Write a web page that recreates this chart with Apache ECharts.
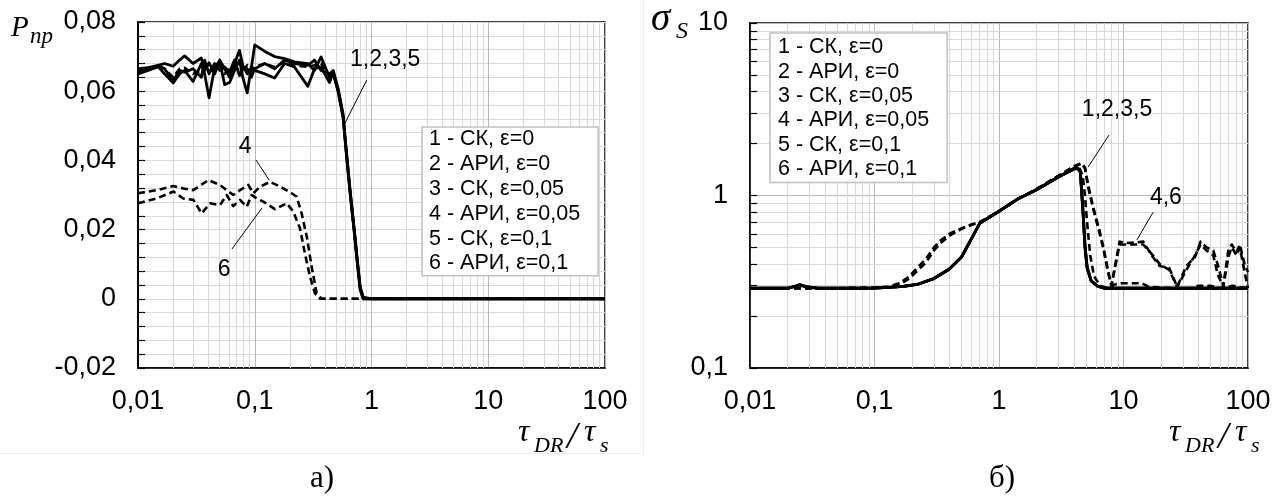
<!DOCTYPE html>
<html><head><meta charset="utf-8">
<script src="https://cdn.jsdelivr.net/npm/echarts@6/dist/echarts.min.js"></script>
<style>html,body{margin:0;padding:0;background:#fff}#c{width:1286px;height:497px}</style>
</head><body><div id="c"></div><script>
// ---------- names / ticks ----------
const seriesNames = ['1 - СК, ε=0','2 - АРИ, ε=0','3 - СК, ε=0,05','4 - АРИ, ε=0,05','5 - СК, ε=0,1','6 - АРИ, ε=0,1'];
const xTickValues = [0.01, 0.1, 1, 10, 100];

// ---------- chart a) P_пр ----------
const xA = [0.01,0.0122,0.0148,0.0169,0.02,0.0227,0.0251,0.0296,0.0349,0.0372,0.0406,0.0454,0.0501,0.0552,0.0609,0.0671,0.074,0.079,0.0862,0.0933,0.1,0.122,0.148,0.18,0.219,0.285,0.325,0.37,0.437,0.47,0.52,0.57,0.61,0.66,0.71,0.76,0.8,0.85,1,100];
const a1 = [0.0665,0.0668,0.0675,0.0680,0.0672,0.0690,0.0702,0.0680,0.0696,0.0660,0.0682,0.0650,0.0690,0.0665,0.0640,0.0680,0.0718,0.0675,0.0650,0.0665,0.0734,0.0715,0.0700,0.0694,0.0685,0.0680,0.0660,0.0699,0.0640,0.0650,0.0600,0.0530,0.0420,0.0300,0.0200,0.0100,0.0030,0,0,0];
const a2 = [0.0660,0.0665,0.0673,0.0665,0.0640,0.0665,0.0668,0.0650,0.0660,0.0675,0.0660,0.0665,0.0675,0.0650,0.0665,0.0670,0.0660,0.0660,0.0675,0.0660,0.0670,0.0680,0.0670,0.0685,0.0675,0.0670,0.0675,0.0680,0.0645,0.0655,0.0600,0.0530,0.0420,0.0300,0.0200,0.0100,0.0030,0,0,0];
const a3 = [0.0655,0.0662,0.0672,0.0650,0.0624,0.0650,0.0660,0.0628,0.0680,0.0650,0.0581,0.0670,0.0688,0.0619,0.0625,0.0660,0.0690,0.0640,0.0595,0.0670,0.0660,0.0650,0.0638,0.0680,0.0670,0.0614,0.0665,0.0670,0.0625,0.0655,0.0595,0.0525,0.0415,0.0295,0.0195,0.0095,0.0025,0,0,0];
const a5 = [0.0650,0.0660,0.0670,0.0665,0.0630,0.0660,0.0655,0.0665,0.0640,0.0690,0.0650,0.0680,0.0660,0.0670,0.0655,0.0690,0.0645,0.0670,0.0665,0.0640,0.0665,0.0680,0.0665,0.0690,0.0680,0.0675,0.0690,0.0660,0.0650,0.0660,0.0605,0.0535,0.0425,0.0305,0.0205,0.0105,0.0035,0.0005,0,0];
const xA4 = [0.01,0.01445,0.0201,0.0244,0.0298,0.040,0.0504,0.0575,0.0655,0.0748,0.0881,0.0972,0.111,0.135,0.165,0.207,0.229,0.252,0.279,0.307,0.339,0.374,1,100];
const a4  = [0.0305,0.0314,0.0326,0.0319,0.0314,0.0343,0.0329,0.0314,0.0300,0.0314,0.0329,0.0305,0.0324,0.0338,0.0324,0.0305,0.0295,0.0247,0.0180,0.0093,0.0016,0,0,0];
const xA6 = [0.01,0.01445,0.0201,0.0244,0.0298,0.0351,0.0414,0.0504,0.0575,0.0655,0.0748,0.0853,0.0942,0.1039,0.1184,0.149,0.188,0.214,0.244,0.269,0.297,0.328,0.362,1,100];
const a6  = [0.0276,0.0290,0.0310,0.0290,0.0286,0.0247,0.0276,0.0271,0.0300,0.0268,0.0286,0.0266,0.0300,0.0290,0.0281,0.0259,0.0276,0.0252,0.0204,0.0131,0.0064,0.0016,0,0,0];
const yTicksA = [-0.02, 0, 0.02, 0.04, 0.06, 0.08];

// ---------- chart б) σ_S ----------
const xB = [0.01,0.015,0.02,0.023,0.025,0.028,0.035,0.05,0.07,0.1,0.13,0.17,0.22,0.3,0.4,0.5,0.6,0.7,1,1.4,2,3,4,4.3,4.5,4.6,4.75,4.9,5.1,5.5,6.2,7,20,100];
const b1 = [0.29,0.29,0.29,0.298,0.305,0.297,0.29,0.29,0.29,0.291,0.293,0.297,0.305,0.33,0.375,0.44,0.56,0.69,0.81,0.95,1.08,1.28,1.43,1.44,1.38,1.07,0.75,0.5,0.38,0.32,0.298,0.29,0.29,0.29];
const b3 = [0.29,0.29,0.29,0.296,0.302,0.295,0.29,0.29,0.29,0.291,0.293,0.297,0.305,0.33,0.375,0.44,0.56,0.69,0.81,0.95,1.08,1.28,1.42,1.43,1.36,1.1,0.78,0.52,0.39,0.32,0.298,0.29,0.29,0.29];
const b5 = [0.29,0.29,0.29,0.297,0.304,0.296,0.29,0.29,0.29,0.291,0.293,0.297,0.305,0.33,0.375,0.44,0.56,0.69,0.81,0.95,1.08,1.28,1.43,1.44,1.37,1.09,0.76,0.51,0.38,0.32,0.298,0.29,0.29,0.29];
const xB2 = [0.01,0.05,0.1,0.17,0.22,0.3,0.4,0.5,0.6,0.7,1,1.4,2,3,4,4.4,4.7,4.9,5.1,5.4,5.8,6.5,7.5,8.5,9.5,14,16,25,35,40,50,60,75,85,100];
const b2  = [0.29,0.29,0.291,0.297,0.305,0.33,0.375,0.44,0.56,0.69,0.81,0.95,1.08,1.28,1.44,1.46,1.3,1.0,0.7,0.45,0.34,0.30,0.29,0.305,0.31,0.31,0.295,0.29,0.29,0.3,0.3,0.29,0.3,0.295,0.29];
const xB4 = [0.01,0.05,0.1,0.13,0.16,0.19,0.22,0.26,0.3,0.34,0.4,0.5,0.6,0.7,1,1.4,2,3,4,4.6,4.9,5.2,5.7,6.4,6.9,7.5,8.0,9.3,11,14.4,17.2,19.5,23.3,27,32,37.5,41.6,46.5,52.6,57,63.3,69.5,74,81,86,94.6,100];
const b4  = [0.29,0.29,0.292,0.297,0.31,0.34,0.38,0.43,0.5,0.55,0.6,0.645,0.68,0.70,0.81,0.95,1.09,1.3,1.48,1.54,1.45,1.15,0.86,0.63,0.50,0.37,0.30,0.54,0.53,0.54,0.44,0.39,0.38,0.296,0.39,0.44,0.54,0.50,0.48,0.40,0.30,0.48,0.52,0.47,0.52,0.39,0.36];
const xB6 = [0.01,0.05,0.1,0.13,0.16,0.19,0.22,0.26,0.3,0.34,0.4,0.5,0.6,0.7,1,1.4,2,3,4,4.6,4.9,5.2,5.7,6.4,6.9,7.5,8.0,9.3,11,14.4,17.2,19.5,23.3,27,32,37.5,41.6,46.5,52.6,57,63.3,69.5,74,81,86,94.6,100];
const b6  = [0.29,0.29,0.291,0.295,0.305,0.33,0.365,0.41,0.48,0.53,0.585,0.64,0.675,0.70,0.81,0.95,1.09,1.3,1.47,1.53,1.44,1.12,0.84,0.61,0.49,0.36,0.30,0.52,0.52,0.52,0.45,0.40,0.37,0.295,0.37,0.45,0.52,0.48,0.45,0.35,0.295,0.44,0.50,0.45,0.50,0.35,0.29];
const yTicksB = [0.1, 1, 10];

// ---------- annotations (data coordinates) ----------
const annA = [{t:'1,2,3,5', at:[1.31,0.069], from:[0.91,0.0632], to:[0.593,0.0508]},
              {t:'4', at:[0.0826,0.0439], from:[0.1025,0.0401], to:[0.133,0.0343]},
              {t:'6', at:[0.0546,0.0083], from:[0.0638,0.0144], to:[0.115,0.0262]}];
const annB = [{t:'1,2,3,5', at:[8.87,3.13], from:[7.65,2.24], to:[5.19,1.46]},
              {t:'4,6', at:[21.9,0.967], from:[17.3,0.80], to:[12.8,0.552]}];

// ---------- helpers ----------
const decades = [0.01, 0.1, 1, 10];
const minorX = [];
decades.forEach(d => { for (let k = 2; k <= 9; k++) minorX.push(+(d * k).toPrecision(3)); });
const minorYB = [];
[0.1, 1].forEach(d => { for (let k = 2; k <= 9; k++) minorYB.push(+(d * k).toPrecision(3)); });

const fmt = v => { const n = +(+v).toPrecision(6); return String(n).replace('.', ','); };
const FONT = 'Liberation Sans, Arial, sans-serif';
const SERIF = 'Liberation Serif, Times New Roman, serif';

function mk(name, xs, ys, dashed, gi, w) {
  return {
    name, type: 'line', xAxisIndex: gi, yAxisIndex: gi,
    data: xs.map((x, i) => [x, ys[i]]),
    symbol: 'none', showSymbol: false, z: 3, animation: false,
    lineStyle: {color: '#000', width: w, type: dashed ? [7, 4] : 'solid', cap: 'butt', join: 'round'},
    itemStyle: {color: '#000'}
  };
}
function gridHelper(gi, withYMinor, tickStartX, tickEndX) {
  const lines = minorX.map(v => ({xAxis: v}));
  const out = [{
    type: 'line', xAxisIndex: gi, yAxisIndex: gi, data: [], silent: true,
    markLine: {silent: true, z: 1, animation: false, symbol: ['none', 'none'], label: {show: false},
      lineStyle: {color: '#d9d9d9', width: 1, type: 'solid'},
      data: withYMinor ? lines.concat(minorYB.map(v => ({yAxis: v}))) : lines}
  }];
  if (withYMinor) {
    out.push({
      type: 'line', xAxisIndex: gi, yAxisIndex: gi, data: [], silent: true,
      markLine: {silent: true, z: 4, animation: false, symbol: ['none', 'none'], label: {show: false},
        lineStyle: {color: '#000', width: 1.2, type: 'solid'},
        data: minorYB.map(v => [{coord: [tickStartX, v]}, {coord: [tickEndX, v]}])}
    });
  }
  return out;
}
function annSeries(gi, ann) {
  return {
    type: 'line', xAxisIndex: gi, yAxisIndex: gi, data: [], silent: true,
    markLine: {silent: true, z: 4, animation: false, symbol: ['none', 'none'], label: {show: false},
      lineStyle: {color: '#000', width: 1, type: 'solid'},
      data: ann.map(a => [{coord: a.from}, {coord: a.to}])},
    markPoint: {silent: true, z: 4, animation: false, symbol: 'circle', symbolSize: 0,
      label: {show: true, position: 'inside', color: '#000', fontSize: 23, fontFamily: FONT, formatter: p => p.name},
      data: ann.map(a => ({name: a.t, coord: a.at}))}
  };
}

const xAxisBase = gi => ({
  type: 'log', logBase: 10, gridIndex: gi, min: 0.01, max: 100,
  axisLine: {show: true, onZero: false, lineStyle: {color: '#000', width: 1.5}},
  axisTick: {show: false},
  axisLabel: {color: '#000', fontSize: 27, fontFamily: FONT, margin: 20, formatter: fmt,
    customValues: xTickValues},
  splitLine: {show: true, lineStyle: {color: '#b8b8b8', width: 1}}
});

const option = {
  animation: false,
  backgroundColor: '#fff',
  textStyle: {fontFamily: FONT},
  grid: [
    {left: 138, top: 22, width: 467, height: 346, show: true, borderColor: '#000', borderWidth: 1.5, backgroundColor: 'transparent', containLabel: false},
    {left: 750, top: 23, width: 498, height: 345, show: true, borderColor: '#000', borderWidth: 1.5, backgroundColor: 'transparent', containLabel: false}
  ],
  xAxis: [xAxisBase(0), xAxisBase(1)],
  yAxis: [
    {type: 'value', gridIndex: 0, min: -0.02, max: 0.08, interval: 0.02,
     axisLine: {show: true, onZero: false, lineStyle: {color: '#000', width: 2}},
     axisTick: {show: true, inside: true, length: 7, lineStyle: {color: '#000', width: 1.2}},
     minorTick: {show: true, splitNumber: 5, length: 7, lineStyle: {color: '#000', width: 1.2}},
     splitLine: {show: true, lineStyle: {color: '#d9d9d9', width: 1}},
     minorSplitLine: {show: true, lineStyle: {color: '#d9d9d9', width: 1}},
     axisLabel: {color: '#000', fontSize: 27, fontFamily: FONT, margin: 22, formatter: fmt}},
    {type: 'log', logBase: 10, gridIndex: 1, min: 0.1, max: 10,
     axisLine: {show: true, onZero: false, lineStyle: {color: '#000', width: 1.5}},
     axisTick: {show: true, inside: true, length: 7, lineStyle: {color: '#000', width: 1.2}},
     splitLine: {show: true, lineStyle: {color: '#b8b8b8', width: 1}},
     axisLabel: {color: '#000', fontSize: 27, fontFamily: FONT, margin: 22, formatter: fmt, customValues: yTicksB}}
  ],
  legend: [
    {data: seriesNames, left: 422, top: 127, orient: 'vertical', icon: 'none', itemWidth: 0, itemHeight: 10, itemGap: 0,
     selectedMode: false, padding: [0, 18, 0, 2], backgroundColor: '#fff', borderColor: '#bfbfbf', borderWidth: 1.5, borderRadius: 0,
     textStyle: {color: '#000', fontSize: 21.5, fontFamily: FONT, lineHeight: 24.8}, z: 6},
    {data: seriesNames, left: 770, top: 33, orient: 'vertical', icon: 'none', itemWidth: 0, itemHeight: 10, itemGap: 0,
     selectedMode: false, padding: [2, 18, 1, 3], backgroundColor: '#fff', borderColor: '#bfbfbf', borderWidth: 1.5, borderRadius: 0,
     textStyle: {color: '#000', fontSize: 21.5, fontFamily: FONT, lineHeight: 24.4}, z: 6}
  ],
  series: [
    ...gridHelper(0, false),
    ...gridHelper(1, true, 0.01, 0.0114),
    mk(seriesNames[0], xA, a1, false, 0, 2.8),
    mk(seriesNames[1], xA, a2, true, 0, 2.6),
    mk(seriesNames[2], xA, a3, false, 0, 2.8),
    mk(seriesNames[3], xA4, a4, true, 0, 2.6),
    mk(seriesNames[4], xA, a5, false, 0, 2.8),
    mk(seriesNames[5], xA6, a6, true, 0, 2.6),
    mk(seriesNames[0], xB, b1, false, 1, 2.8),
    mk(seriesNames[1], xB2, b2, true, 1, 2.6),
    mk(seriesNames[2], xB, b3, false, 1, 2.8),
    mk(seriesNames[3], xB4, b4, true, 1, 2.6),
    mk(seriesNames[4], xB, b5, false, 1, 2.8),
    mk(seriesNames[5], xB6, b6, true, 1, 2.6),
    annSeries(0, annA),
    annSeries(1, annB)
  ],
  graphic: [
    {type: 'line', shape: {x1: 0, y1: 453.5, x2: 640, y2: 453.5}, style: {stroke: '#eeeeee', lineWidth: 1}, silent: true},
    {type: 'line', shape: {x1: 643.5, y1: 0, x2: 643.5, y2: 455}, style: {stroke: '#eeeeee', lineWidth: 1}, silent: true},
    // y titles
    {type: 'text', x: 11, y: 28, style: {text: 'P', font: 'italic 29px ' + SERIF, fill: '#000', verticalAlign: 'middle'}},
    {type: 'text', x: 30, y: 37, style: {text: 'пр', font: 'italic 23px ' + SERIF, fill: '#000', verticalAlign: 'middle'}},
    {type: 'text', x: 651, y: 20, style: {text: 'σ', font: 'italic 39px ' + SERIF, fill: '#000', verticalAlign: 'middle'}},
    {type: 'text', x: 676, y: 32, style: {text: 'S', font: 'italic 24px ' + SERIF, fill: '#000', verticalAlign: 'middle'}},
    // x titles
    ...[0, 651].flatMap(dx => [
      {type: 'text', x: 518 + dx, y: 433, style: {text: 'τ', font: 'italic 32px ' + SERIF, fill: '#000', verticalAlign: 'middle'}},
      {type: 'text', x: 534 + dx, y: 446, style: {text: 'DR', font: 'italic 22px ' + SERIF, fill: '#000', verticalAlign: 'middle'}},
      {type: 'text', x: 567 + dx, y: 438, style: {text: '/', font: 'italic 38px ' + SERIF, fill: '#000', verticalAlign: 'middle'}},
      {type: 'text', x: 584 + dx, y: 433, style: {text: 'τ', font: 'italic 32px ' + SERIF, fill: '#000', verticalAlign: 'middle'}},
      {type: 'text', x: 600 + dx, y: 446, style: {text: 's', font: 'italic 22px ' + SERIF, fill: '#000', verticalAlign: 'middle'}}
    ]),
    // captions
    {type: 'text', x: 322, y: 479, style: {text: 'а)', font: '31px ' + SERIF, fill: '#000', align: 'center', verticalAlign: 'middle'}},
    {type: 'text', x: 1002, y: 479, style: {text: 'б)', font: '31px ' + SERIF, fill: '#000', align: 'center', verticalAlign: 'middle'}}
  ]
};
const chart = echarts.init(document.getElementById('c'), null, {renderer: 'canvas'});
chart.setOption(option);
</script></body></html>
